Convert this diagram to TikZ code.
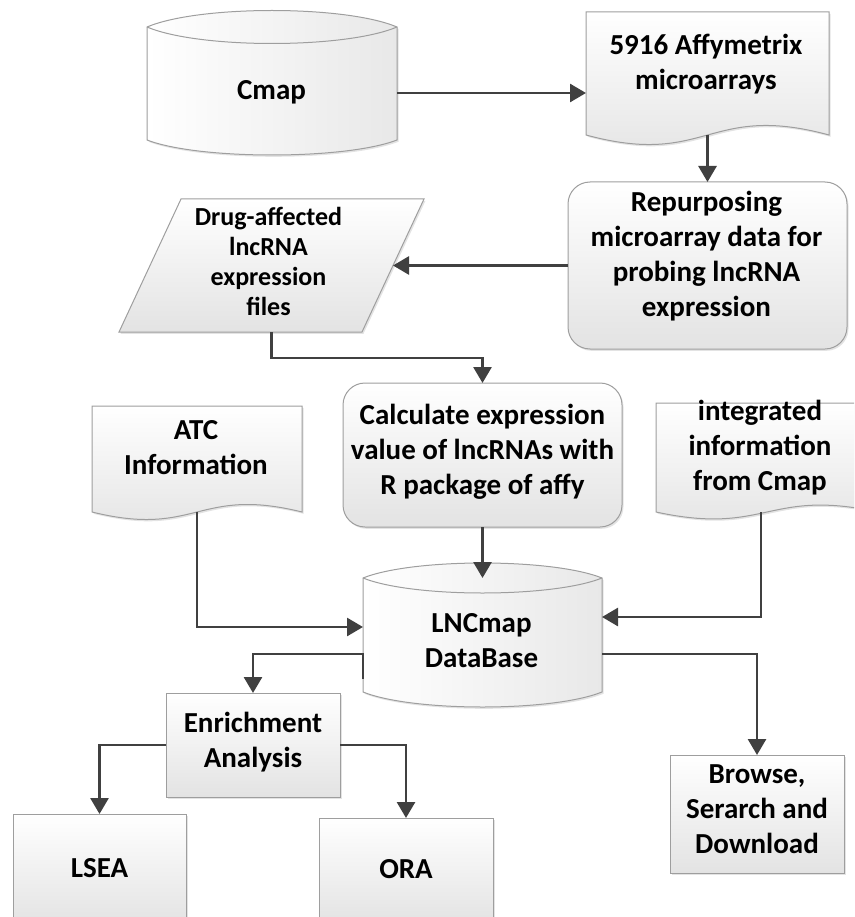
\documentclass[tikz,border=0pt]{standalone}
\usepackage{fontspec}
\setmainfont{Carlito}
\usetikzlibrary{arrows.meta,shadows}
\begin{document}
\begin{tikzpicture}[x=1pt,y=-1pt,
  shd/.style={drop shadow={shadow xshift=1.5pt,shadow yshift=-1.8pt,opacity=0.22}},
  shp/.style={draw=black!38,line width=1pt,top color=white,bottom color=black!11,shd},
  cyl/.style={draw=black!38,line width=1pt,left color=white,right color=black!9,shd},
  edge/.style={draw=black!38,line width=1pt},
  body/.style={inner sep=0pt,outer sep=0pt,draw=none},
  txt/.style={font=\fontsize{29}{35}\selectfont\bfseries,align=center,inner sep=0pt,outer sep=0pt,
    execute at begin node=\strut,execute at end node=\strut},
  smalltxt/.style={txt,font=\fontsize{26}{30}\selectfont\bfseries},
  box/.style={shp,rectangle,txt},
  arr/.style={draw=black!75,line width=2.8pt,-{Triangle[length=16pt,width=18pt]}}
]
\useasboundingbox (0,0) rectangle (854,917);
\clip (0,0) rectangle (854,917);

% Cmap cylinder
\path[cyl] (147,27) .. controls (199,5) and (345,5) .. (397,27) -- (397,140)
  .. controls (345,160) and (199,160) .. (147,140) -- cycle;
\draw[edge] (147,27) .. controls (199,49) and (345,49) .. (397,27);
\node[body,minimum width=250pt,minimum height=113pt] (cmap) at (272,83.5) {};
\node[txt] (cmapt) at (271.5,93) {Cmap};

% 5916 Affymetrix document
\path[shp] (586,12) -- (829,12) -- (829,135) .. controls (707.5,102) and (707.5,168) .. (586,135) -- cycle;
\node[body,minimum width=243pt,minimum height=123pt] (affy) at (707.5,73.5) {};
\node[txt] (affyt) at (706,67.5) {5916 Affymetrix\\microarrays};

% Repurposing rounded box
\node[shp,rounded corners=22pt,inner sep=0pt,outer sep=0pt,minimum width=279pt,minimum height=167pt] (repurp) at (707.5,265.5) {};
\node[txt] (repurpt) at (706.5,259) {Repurposing\\microarray data for\\probing lncRNA\\expression};

% Drug-affected parallelogram
\path[shp] (181,199) -- (424,199) -- (362,332) -- (119,332) -- cycle;
\node[body,minimum width=305pt,minimum height=133pt] (drug) at (271.5,265.5) {};
\node[smalltxt] (drugt) at (268.5,265.75) {Drug-affected\\lncRNA\\expression\\files};

% Calculate rounded box
\node[shp,rounded corners=22pt,txt,minimum width=279pt,minimum height=144pt] (calc) at (482.5,455) {Calculate expression\\value of lncRNAs with\\R package of affy};

% ATC document
\path[shp] (92,406) -- (302,406) -- (302,512) .. controls (197,486) and (197,538) .. (92,512) -- cycle;
\node[body,minimum width=210pt,minimum height=106pt] (atc) at (197,459) {};
\node[txt] (atct) at (196,452.5) {ATC\\Information};

% integrated document
\path[shp] (656,403) -- (878,403) -- (878,512) .. controls (767,488) and (767,536) .. (656,512) -- cycle;
\node[body,minimum width=222pt,minimum height=109pt] (integ) at (767,457.5) {};
\node[txt] (integt) at (760,451) {integrated\\information\\from Cmap};

% LNCmap cylinder
\path[cyl] (363,578) .. controls (413,558) and (552,558) .. (602,578) -- (602,692)
  .. controls (552,712) and (413,712) .. (363,692) -- cycle;
\draw[edge] (363,578) .. controls (413,598) and (552,598) .. (602,578);
\node[body,minimum width=239pt,minimum height=114pt] (lnc) at (482.5,635) {};
\node[txt] (lnct) at (481.5,645.5) {LNCmap\\DataBase};

% rectangles
\node[box,minimum width=174pt,minimum height=104pt] (enrich) at (253,745) {Enrichment\\Analysis};
\node[box,minimum width=173pt,minimum height=112pt] (lsea) at (99.5,870) {LSEA};
\node[box,minimum width=174pt,minimum height=106pt] (ora) at (406,871) {ORA};
\node[box,minimum width=174pt,minimum height=118pt] (browse) at (757,814) {Browse,\\Serarch and\\Download};

% connectors
\draw[arr] ([yshift=-9.5pt]cmap.east) -- ([yshift=-9.5pt]cmap.east -| affy.west);
\draw[arr] (affy.south) -- (repurp.north);
\draw[arr] (repurp.west) -- ([xshift=-31pt]drug.east);
\draw[arr] (drug.south) -- ++(0,26) -| (calc.north);
\draw[arr] (calc.south) -- (lnc.north);
\draw[arr] (atc.south) |- ([yshift=8pt]lnc.west);
\draw[arr] ([xshift=-6pt]integ.south) |- ([yshift=18pt]lnc.east);
\draw[arr] ([yshift=-44pt]lnc.west) -- ([yshift=-19pt]lnc.west) -| (enrich.north);
\draw[arr] ([yshift=-19pt]lnc.east) -| (browse.north);
\draw[arr] (enrich.west) -| (lsea.north);
\draw[arr] (enrich.east) -| (ora.north);
\end{tikzpicture}
\end{document}
